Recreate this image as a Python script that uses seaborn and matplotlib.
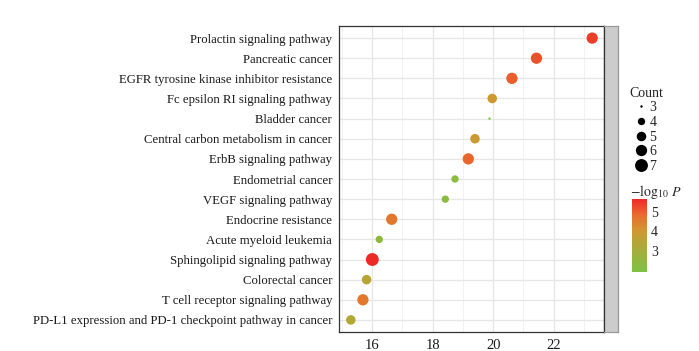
import numpy as np
import pandas as pd
import matplotlib.pyplot as plt
import seaborn as sns
from matplotlib.colors import LinearSegmentedColormap, Normalize
from matplotlib.cm import ScalarMappable
from matplotlib.lines import Line2D

pathways = [
    "Prolactin signaling pathway",
    "Pancreatic cancer",
    "EGFR tyrosine kinase inhibitor resistance",
    "Fc epsilon RI signaling pathway",
    "Bladder cancer",
    "Central carbon metabolism in cancer",
    "ErbB signaling pathway",
    "Endometrial cancer",
    "VEGF signaling pathway",
    "Endocrine resistance",
    "Acute myeloid leukemia",
    "Sphingolipid signaling pathway",
    "Colorectal cancer",
    "T cell receptor signaling pathway",
    "PD-L1 expression and PD-1 checkpoint pathway in cancer",
]
enrichment = [23.27, 21.43, 20.62, 19.97, 19.88, 19.40, 19.18, 18.74, 18.42,
              16.65, 16.24, 16.01, 15.82, 15.70, 15.30]
counts = [6, 6, 6, 5, 3, 5, 6, 4, 4, 6, 4, 7, 5, 6, 5]
neg_log_p = [5.40, 5.15, 5.00, 4.00, 1.95, 3.95, 4.90, 2.35, 2.30,
             4.60, 2.40, 5.64, 3.50, 4.60, 3.35]

count_levels = [3, 4, 5, 6, 7]
count_sizes = {3: 3, 4: 28, 5: 47, 6: 66, 7: 86}

df = pd.DataFrame({"Pathway": pathways, "Enrichment": enrichment,
                   "Count": counts, "logP": neg_log_p})

sns.set_style("white")
plt.rcParams["font.family"] = ["Liberation Serif", "DejaVu Serif"]
plt.rcParams["mathtext.fontset"] = "stix"

cmap = LinearSegmentedColormap.from_list(
    "gr", [(0, "#7dc242"), (0.42, "#b6a535"), (0.57, "#d29630"),
           (0.78, "#e86c2c"), (1, "#ee2a26")])
norm = Normalize(min(neg_log_p), max(neg_log_p))

fig = plt.figure(figsize=(6.99, 3.51), dpi=100)
ax = fig.add_axes([339 / 699, 19 / 351, 265 / 699, 306 / 351])

sns.scatterplot(data=df, x="Enrichment", y="Pathway", hue="logP", size="Count",
                palette=cmap, hue_norm=norm, sizes=count_sizes,
                linewidth=0, legend=False, ax=ax, zorder=3)

ax.set_xlim(14.91, 23.66)
ax.set_ylim(len(pathways) - 0.4, -0.6)
ax.set_xticks([16, 18, 20, 22])
ax.set_xticks([15, 17, 19, 21, 23], minor=True)
ax.grid(True, which="major", color="#e6e6e6", lw=0.9)
ax.grid(True, which="minor", axis="x", color="#f0f0f0", lw=0.6)
ax.set_axisbelow(True)
ax.set_xlabel("")
ax.set_ylabel("")
ax.tick_params(axis="both", which="major", length=3, width=0.8, color="#333333",
               labelsize=9.2, pad=2, labelcolor="#1a1a1a")
ax.tick_params(axis="x", labelsize=10.5)
ax.tick_params(which="minor", length=0)
for s in ax.spines.values():
    s.set_color("#333333")
    s.set_linewidth(0.9)

# grey strip on the right
strip = fig.add_axes([604 / 699, 19 / 351, 14 / 699, 306 / 351])
strip.set_facecolor("#cccccc")
strip.set_xticks([])
strip.set_yticks([])
for name, s in strip.spines.items():
    s.set_color("#333333" if name == "left" else "#9a9a9a")
    s.set_linewidth(0.9)

# size legend
handles = [Line2D([], [], marker="o", ls="", color="black",
                  markersize=np.sqrt(count_sizes[c]), markeredgewidth=0)
           for c in count_levels]
fig.legend(handles, [str(c) for c in count_levels], title="Count",
           loc="upper left", bbox_to_anchor=(624 / 699, 1 - 81 / 351),
           frameon=False, fontsize=10, title_fontsize=10,
           labelspacing=0.12, handletextpad=0.25, handlelength=0.7,
           borderaxespad=0)

# colour bar
cax = fig.add_axes([632 / 699, 1 - 272 / 351, 15 / 699, 73 / 351])
cb = fig.colorbar(ScalarMappable(norm=norm, cmap=cmap), cax=cax)
cb.set_ticks([3, 4, 5])
cb.outline.set_visible(False)
cax.tick_params(length=3, width=0.8, color="white", direction="in",
                labelsize=10, pad=3)
fig.text(630 / 699, 1 - 192 / 351, r"$-\log_{10}\,\mathit{P}$", fontsize=10,
         va="center", ha="left")

fig.savefig("out.png", dpi=100)
